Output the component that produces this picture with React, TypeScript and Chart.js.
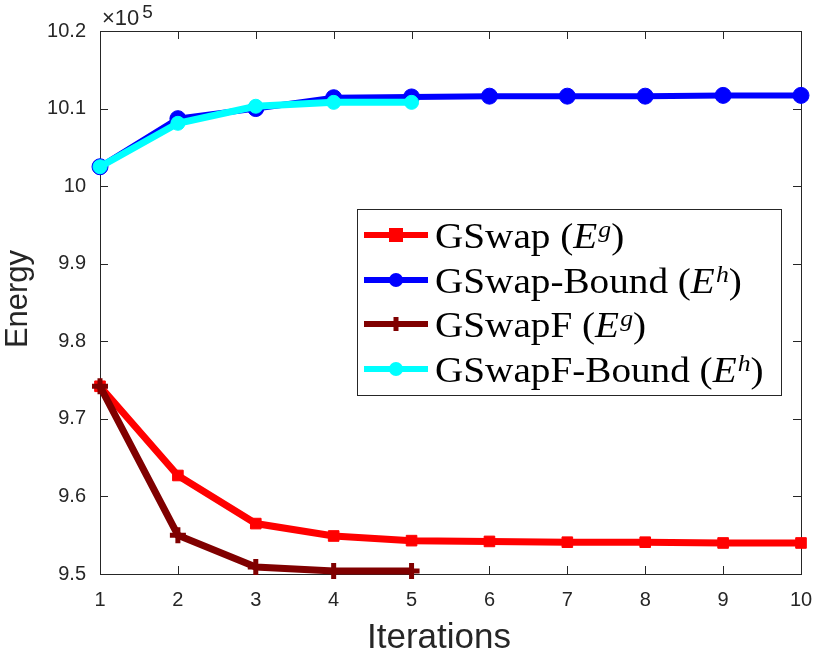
import React, { useEffect, useRef } from 'react';
import { Chart, registerables, ChartConfiguration, Plugin } from 'chart.js';

Chart.register(...registerables);

// values are in units of 10^5
const iterations = [1, 2, 3, 4, 5, 6, 7, 8, 9, 10];
const gswap = [9.742, 9.627, 9.565, 9.549, 9.543, 9.542, 9.541, 9.541, 9.540, 9.540];
const gswapBound = [10.025, 10.087, 10.100, 10.114, 10.115, 10.116, 10.116, 10.116, 10.117, 10.117];
const gswapF = [9.742, 9.550, 9.509, 9.504, 9.504];
const gswapFBound = [10.025, 10.081, 10.103, 10.108, 10.108];
const yTickLabels = ['9.5', '9.6', '9.7', '9.8', '9.9', '10', '10.1', '10.2'];

const AXIS = '#262626';
const SANS = '"Liberation Sans", Arial, sans-serif';
const SERIF = '"Liberation Serif", "Times New Roman", serif';

type Seg = { t: string; it?: boolean; sup?: boolean };

const legendItems: { color: string; marker: string; segs: Seg[] }[] = [
  { color: '#ff0000', marker: 'square', segs: [{ t: 'GSwap (' }, { t: 'E', it: true }, { t: 'g', it: true, sup: true }, { t: ')' }] },
  { color: '#0000ff', marker: 'circle', segs: [{ t: 'GSwap-Bound (' }, { t: 'E', it: true }, { t: 'h', it: true, sup: true }, { t: ')' }] },
  { color: '#800000', marker: 'plus', segs: [{ t: 'GSwapF (' }, { t: 'E', it: true }, { t: 'g', it: true, sup: true }, { t: ')' }] },
  { color: '#00ffff', marker: 'circle', segs: [{ t: 'GSwapF-Bound (' }, { t: 'E', it: true }, { t: 'h', it: true, sup: true }, { t: ')' }] },
];

const toPoints = (ys: number[]) => ys.map((y, i) => ({ x: iterations[i], y }));

function drawMarker(ctx: CanvasRenderingContext2D, kind: string, x: number, y: number, color: string) {
  ctx.save();
  ctx.fillStyle = color;
  ctx.strokeStyle = color;
  if (kind === 'square') {
    ctx.fillRect(x - 7, y - 7, 14, 14);
  } else if (kind === 'circle') {
    ctx.beginPath();
    ctx.arc(x, y, 7, 0, Math.PI * 2);
    ctx.fill();
  } else {
    ctx.lineWidth = 5;
    ctx.beginPath();
    ctx.moveTo(x - 7, y);
    ctx.lineTo(x + 7, y);
    ctx.moveTo(x, y - 7);
    ctx.lineTo(x, y + 7);
    ctx.stroke();
  }
  ctx.restore();
}

const matlabLook: Plugin = {
  id: 'matlabLook',
  beforeDatasetsDraw(chart) {
    const { ctx, chartArea: a } = chart;
    const xs = chart.scales.x;
    const ys = chart.scales.y;
    ctx.save();
    ctx.strokeStyle = AXIS;
    ctx.lineWidth = 1;
    ctx.strokeRect(a.left + 0.5, a.top + 0.5, a.right - a.left, a.bottom - a.top);
    ctx.beginPath();
    xs.ticks.forEach((t) => {
      const px = Math.round(xs.getPixelForValue(t.value)) + 0.5;
      ctx.moveTo(px, a.bottom);
      ctx.lineTo(px, a.bottom - 8);
      ctx.moveTo(px, a.top);
      ctx.lineTo(px, a.top + 8);
    });
    ys.ticks.forEach((t) => {
      const py = Math.round(ys.getPixelForValue(t.value)) + 0.5;
      ctx.moveTo(a.left, py);
      ctx.lineTo(a.left + 8, py);
      ctx.moveTo(a.right, py);
      ctx.lineTo(a.right - 8, py);
    });
    ctx.stroke();
    ctx.restore();
  },
  afterDraw(chart) {
    const { ctx, chartArea: a } = chart;
    ctx.save();
    ctx.fillStyle = AXIS;

    // exponent label
    ctx.textBaseline = 'alphabetic';
    ctx.textAlign = 'left';
    ctx.font = `22px ${SANS}`;
    ctx.fillText('\u00d710', a.left + 2, 25);
    const w = ctx.measureText('\u00d710').width;
    ctx.font = `19px ${SANS}`;
    ctx.fillText('5', a.left + 5 + w, 18);

    // axis titles
    ctx.font = `35px ${SANS}`;
    ctx.textAlign = 'center';
    ctx.fillText('Iterations', 439, 648);
    ctx.save();
    ctx.translate(27, 299);
    ctx.rotate(-Math.PI / 2);
    ctx.font = `31px ${SANS}`;
    ctx.fillText('Energy', 0, 0);
    ctx.restore();

    // legend
    const bx = 357, by = 209, bw = 424, bh = 186;
    ctx.fillStyle = '#ffffff';
    ctx.fillRect(bx, by, bw, bh);
    ctx.strokeStyle = AXIS;
    ctx.lineWidth = 1;
    ctx.strokeRect(bx + 0.5, by + 0.5, bw, bh);
    const rows = [235, 280, 324, 369];
    legendItems.forEach((item, i) => {
      const cy = rows[i];
      ctx.strokeStyle = item.color;
      ctx.lineWidth = 6;
      ctx.beginPath();
      ctx.moveTo(364, cy);
      ctx.lineTo(428, cy);
      ctx.stroke();
      drawMarker(ctx, item.marker, 396, cy, item.color);
      ctx.save();
      ctx.translate(435, cy + 13);
      ctx.scale(1.12, 1);
      ctx.fillStyle = '#000000';
      ctx.textAlign = 'left';
      let x = 0;
      item.segs.forEach((s) => {
        ctx.font = `${s.it ? 'italic ' : ''}${s.sup ? 23 : 35}px ${SERIF}`;
        ctx.fillText(s.t, x, s.sup ? -11 : 0);
        x += ctx.measureText(s.t).width + (s.it && !s.sup ? 1 : 0);
      });
      ctx.restore();
    });
    ctx.restore();
  },
};

const App: React.FC = () => {
  const canvasRef = useRef<HTMLCanvasElement>(null);
  const chartRef = useRef<Chart | null>(null);

  useEffect(() => {
    document.body.style.margin = '0';
    if (chartRef.current) {
      chartRef.current.destroy();
    }
    const ctx = canvasRef.current!.getContext('2d');

    const config: ChartConfiguration<'line'> = {
      type: 'line',
      data: {
        datasets: [
          {
            label: 'GSwap (E^g)',
            data: toPoints(gswap),
            borderColor: '#ff0000',
            backgroundColor: '#ff0000',
            borderWidth: 7,
            pointStyle: 'rect',
            pointRadius: 7.5,
            pointBorderWidth: 1,
            order: 4,
          },
          {
            label: 'GSwap-Bound (E^h)',
            data: toPoints(gswapBound),
            borderColor: '#0000ff',
            backgroundColor: '#0000ff',
            borderWidth: 6,
            pointStyle: 'circle',
            pointRadius: 8,
            pointBorderWidth: 1,
            order: 3,
          },
          {
            label: 'GSwapF (E^g)',
            data: toPoints(gswapF),
            borderColor: '#800000',
            backgroundColor: '#800000',
            borderWidth: 7,
            pointStyle: 'cross',
            pointRadius: 8,
            pointBorderWidth: 5,
            order: 2,
          },
          {
            label: 'GSwapF-Bound (E^h)',
            data: toPoints(gswapFBound),
            borderColor: '#00ffff',
            backgroundColor: '#00ffff',
            borderWidth: 7,
            pointStyle: 'circle',
            pointRadius: 7,
            pointBorderWidth: 1,
            order: 1,
          },
        ],
      },
      options: {
        animation: false,
        responsive: false,
        layout: { padding: { top: 31, right: 12, left: 0, bottom: 0 } },
        datasets: { line: { clip: false as any, tension: 0 } },
        plugins: {
          legend: { display: false },
          tooltip: { enabled: false },
        },
        scales: {
          x: {
            type: 'linear',
            min: 1,
            max: 10,
            grid: { display: false, drawTicks: false },
            border: { display: false },
            ticks: {
              stepSize: 1,
              padding: 14,
              color: AXIS,
              font: { family: SANS, size: 20 },
              maxRotation: 0,
            },
            afterFit: (s: any) => {
              s.height = 76;
              s.paddingLeft = 0;
              s.paddingRight = 0;
            },
          },
          y: {
            type: 'linear',
            min: 9.5,
            max: 10.2,
            grid: { display: false, drawTicks: false },
            border: { display: false },
            ticks: {
              stepSize: 0.1,
              padding: 14,
              color: AXIS,
              font: { family: SANS, size: 20 },
              callback: (_v, i) => yTickLabels[i],
            },
            afterFit: (s: any) => {
              s.width = 100;
              s.paddingTop = 0;
              s.paddingBottom = 0;
            },
          },
        },
      },
      plugins: [matlabLook],
    };

    chartRef.current = new Chart(ctx!, config);
    return () => {
      chartRef.current?.destroy();
      chartRef.current = null;
    };
  }, []);

  return (
    <div style={{ width: 814, height: 650 }}>
      <canvas ref={canvasRef} width={814} height={650} />
    </div>
  );
};

export default App;
